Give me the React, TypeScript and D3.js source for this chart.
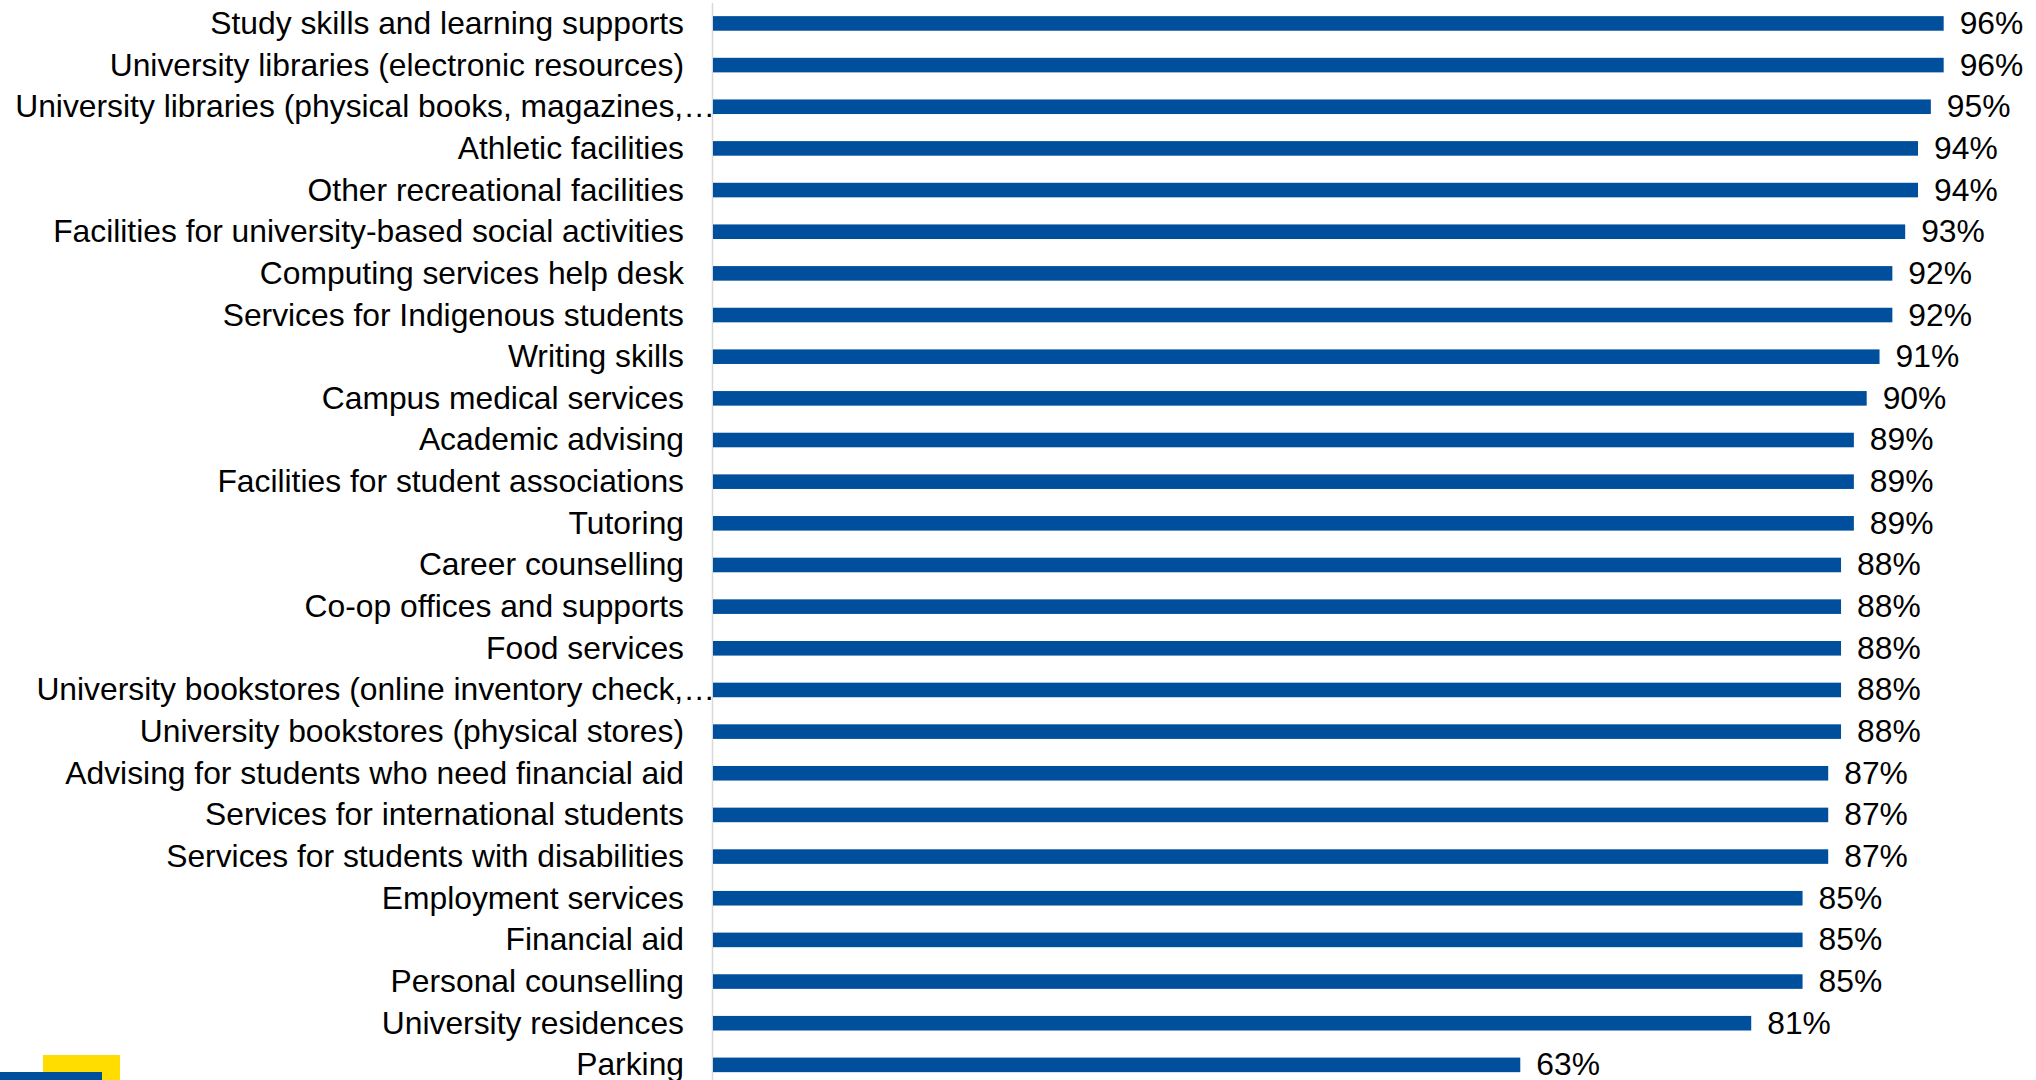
import React, { useEffect, useRef } from "react";
import * as d3 from "d3";

const categories: string[] = [
  "Study skills and learning supports",
  "University libraries (electronic resources)",
  "University libraries (physical books, magazines,…",
  "Athletic facilities",
  "Other recreational facilities",
  "Facilities for university-based social activities",
  "Computing services help desk",
  "Services for Indigenous students",
  "Writing skills",
  "Campus medical services",
  "Academic advising",
  "Facilities for student associations",
  "Tutoring",
  "Career counselling",
  "Co-op offices and supports",
  "Food services",
  "University bookstores (online inventory check,…",
  "University bookstores (physical stores)",
  "Advising for students who need financial aid",
  "Services for international students",
  "Services for students with disabilities",
  "Employment services",
  "Financial aid",
  "Personal counselling",
  "University residences",
  "Parking",
];

const values: number[] = [
  0.96, 0.96, 0.95, 0.94, 0.94, 0.93, 0.92, 0.92, 0.91, 0.9, 0.89, 0.89, 0.89,
  0.88, 0.88, 0.88, 0.88, 0.88, 0.87, 0.87, 0.87, 0.85, 0.85, 0.85, 0.81, 0.63,
];

const W = 2036;
const H = 1080;
const BLUE = "#004F9D";
const YELLOW = "#FFDD00";
const FONT = "'Liberation Sans', Arial, sans-serif";

export default function App() {
  const ref = useRef<SVGSVGElement | null>(null);

  useEffect(() => {
    const svg = d3.select(ref.current);
    svg.selectAll("*").remove();

    const x = d3.scaleLinear().domain([0, 1]).range([712, 1995]);
    const y = d3
      .scaleBand<string>()
      .domain(categories)
      .range([2.6, 1085.7])
      .paddingInner(0.65)
      .paddingOuter(0.325);

    const data = categories.map((c, i) => ({ c, v: values[i] }));

    // axis line
    svg
      .append("line")
      .attr("x1", x(0) + 0.5)
      .attr("x2", x(0) + 0.5)
      .attr("y1", 3)
      .attr("y2", H)
      .attr("stroke", "#D9D9D9")
      .attr("stroke-width", 1.5);

    // bars
    svg
      .append("g")
      .selectAll("rect")
      .data(data)
      .join("rect")
      .attr("x", x(0) + 1)
      .attr("y", (d) => y(d.c)!)
      .attr("width", (d) => x(d.v) - x(0) - 1)
      .attr("height", y.bandwidth())
      .attr("fill", BLUE);

    // category labels
    svg
      .append("g")
      .selectAll("text")
      .data(data)
      .join("text")
      .attr("x", (d) => (d.c.endsWith("…") ? x(0) + 3 : x(0) - 28))
      .attr("y", (d) => y(d.c)! + y.bandwidth() / 2)
      .attr("dy", "0.33em")
      .attr("text-anchor", "end")
      .attr("font-family", FONT)
      .attr("font-size", 31.8)
      .attr("fill", "#000")
      .text((d) => d.c);

    // value labels
    svg
      .append("g")
      .selectAll("text")
      .data(data)
      .join("text")
      .attr("x", (d) => x(d.v) + 16)
      .attr("y", (d) => y(d.c)! + y.bandwidth() / 2)
      .attr("dy", "0.33em")
      .attr("text-anchor", "start")
      .attr("font-family", FONT)
      .attr("font-size", 31.8)
      .attr("fill", "#000")
      .text((d) => d3.format(".0%")(d.v));

    // logo mark bottom-left
    svg
      .append("rect")
      .attr("x", 43)
      .attr("y", 1055)
      .attr("width", 77)
      .attr("height", 30)
      .attr("fill", YELLOW);
    svg
      .append("rect")
      .attr("x", 0)
      .attr("y", 1072)
      .attr("width", 102)
      .attr("height", 12)
      .attr("fill", BLUE);
  }, []);

  return (
    <svg
      ref={ref}
      width={W}
      height={H}
      style={{ position: "absolute", left: 0, top: 0, background: "#fff" }}
    />
  );
}
